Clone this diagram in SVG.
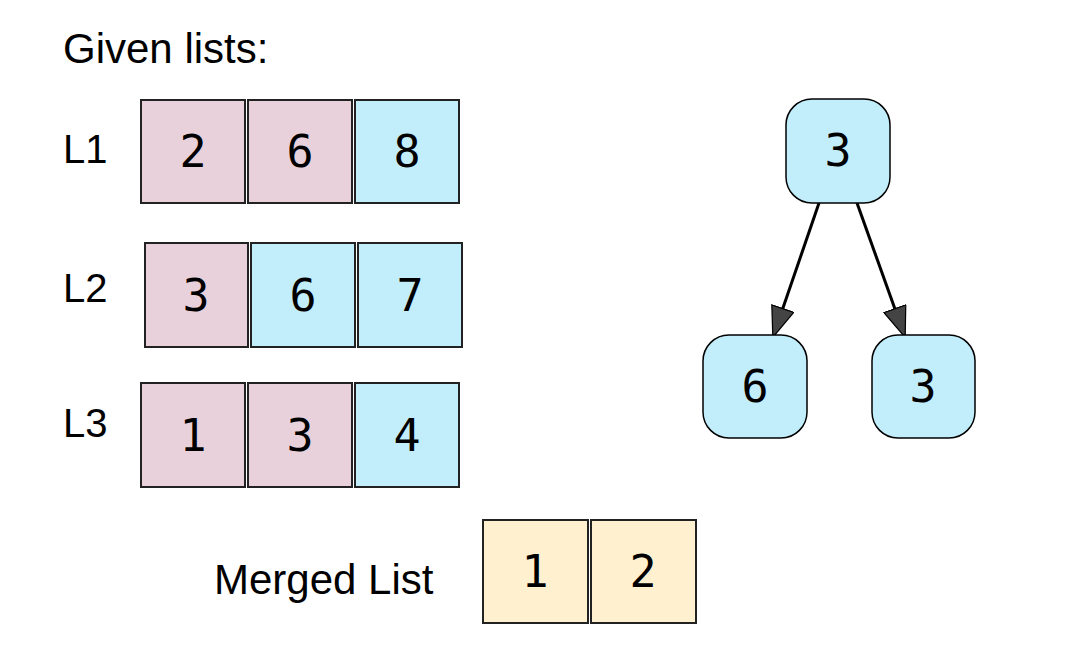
<svg xmlns="http://www.w3.org/2000/svg" width="1078" height="662" viewBox="0 0 1078 662">
<style>
.lbl{font-family:"Liberation Sans",Arial,sans-serif;font-size:40px;fill:#000}
.d{font-family:"DejaVu Sans Mono","DejaVu Sans",monospace;font-size:45px;fill:#000;text-anchor:middle}
.cell{stroke:#222;stroke-width:2}
.p{fill:#E9D1DC}
.b{fill:#C2EEFC}
.y{fill:#FFF1CF}
.tn{fill:#C2EEFC;stroke:#000;stroke-width:1.5}
.edge{stroke:#000;stroke-width:3;fill:none}
</style>
<defs>
<marker id="ah" viewBox="0 0 13 10" refX="12.5" refY="5" markerWidth="32" markerHeight="24.6" markerUnits="userSpaceOnUse" orient="auto">
<path d="M0.3,0.3 L12.7,5 L0.3,9.7 Z" fill="#444" stroke="#000" stroke-width="0.5"/>
</marker>
</defs>
<rect width="1078" height="662" fill="#fff"/>
<g id="title"><text class="lbl" x="63" y="63" style="font-size:42px">Given lists:</text></g>
<g id="L1">
<text class="lbl" x="63" y="163">L1</text>
<rect class="cell p" x="141" y="100" width="104" height="103"/><text class="d" x="193" y="167">2</text>
<rect class="cell p" x="248" y="100" width="104" height="103"/><text class="d" x="300" y="167">6</text>
<rect class="cell b" x="355" y="100" width="104" height="103"/><text class="d" x="407" y="167">8</text>
</g>
<g id="L2">
<text class="lbl" x="63" y="302">L2</text>
<rect class="cell p" x="145" y="243" width="103" height="104"/><text class="d" x="196" y="311">3</text>
<rect class="cell b" x="251" y="243" width="104" height="104"/><text class="d" x="303" y="311">6</text>
<rect class="cell b" x="358" y="243" width="104" height="104"/><text class="d" x="410" y="311">7</text>
</g>
<g id="L3">
<text class="lbl" x="63" y="437">L3</text>
<rect class="cell p" x="141" y="383" width="104" height="104"/><text class="d" x="193" y="451">1</text>
<rect class="cell p" x="248" y="383" width="104" height="104"/><text class="d" x="300" y="451">3</text>
<rect class="cell b" x="355" y="383" width="104" height="104"/><text class="d" x="407" y="451">4</text>
</g>
<g id="merged">
<text class="lbl" x="214" y="594" style="font-size:42px">Merged List</text>
<rect class="cell y" x="483" y="520" width="105" height="103"/><text class="d" x="535" y="587">1</text>
<rect class="cell y" x="591" y="520" width="105" height="103"/><text class="d" x="643" y="587">2</text>
</g>
<g id="connectors">
<line class="edge" x1="819" y1="203" x2="773" y2="337" marker-end="url(#ah)"/>
<line class="edge" x1="857" y1="203" x2="905" y2="337" marker-end="url(#ah)"/>
</g>
<g id="root"><rect class="tn" x="786" y="99" width="104" height="104" rx="26"/><text class="d" x="838" y="166">3</text></g>
<g id="left"><rect class="tn" x="703" y="335" width="104" height="103" rx="26"/><text class="d" x="755" y="402">6</text></g>
<g id="right"><rect class="tn" x="872" y="335" width="103" height="103" rx="26"/><text class="d" x="923" y="402">3</text></g>
</svg>
